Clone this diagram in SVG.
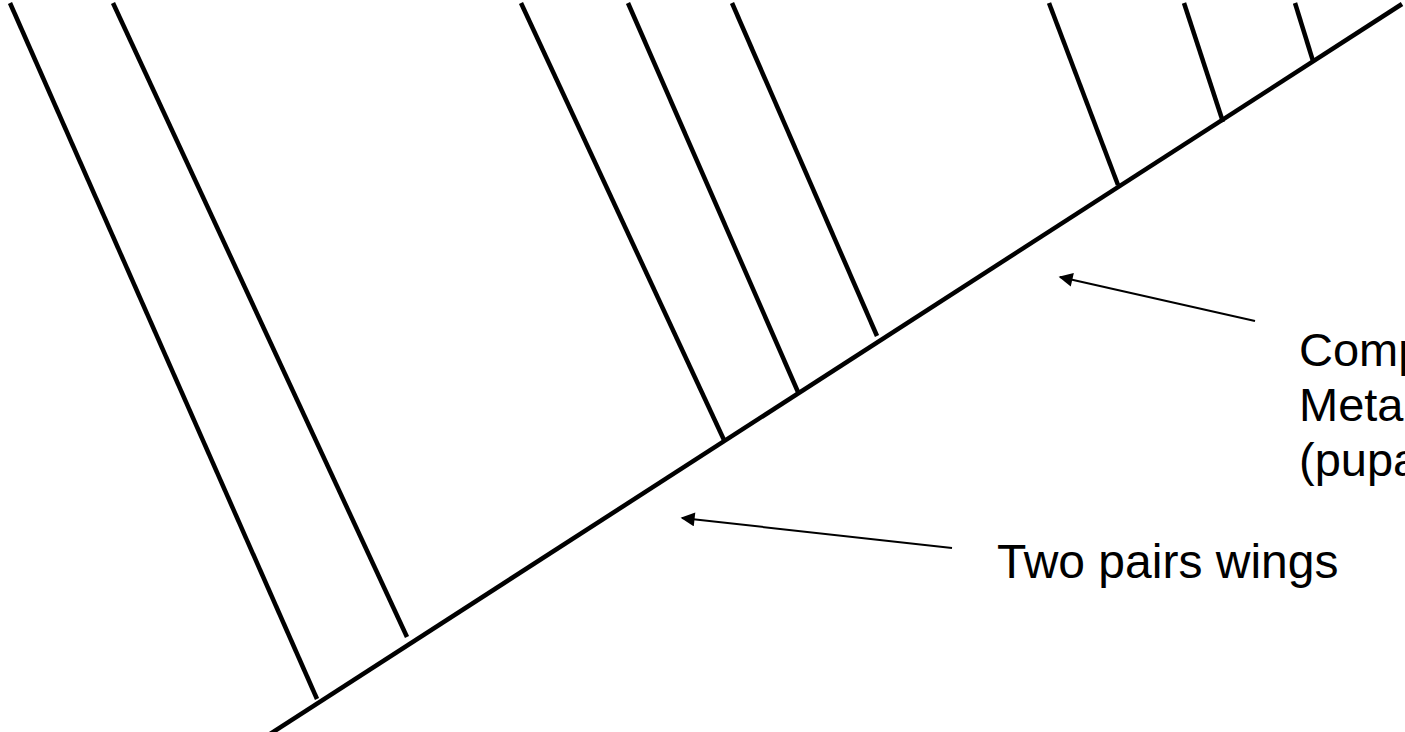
<svg xmlns="http://www.w3.org/2000/svg" width="1405" height="732" viewBox="0 0 1405 732">
  <style>
    .stem { stroke: #000; stroke-width: 4.5; stroke-linecap: butt; fill: none; }
    .pointer { stroke: #000; stroke-width: 2; fill: none; marker-end: url(#head); }
    .label { font-family: "Liberation Sans", Arial, sans-serif; font-size: 48px; fill: #000; }
    .side { font-size: 47px; }
  </style>
  <defs>
    <marker id="head" viewBox="0 0 10 10" refX="9" refY="5" markerWidth="8" markerHeight="7" markerUnits="strokeWidth" orient="auto">
      <path d="M0,0 L10,5 L0,10 Z" fill="#000"/>
    </marker>
  </defs>
  <rect width="1405" height="732" fill="#fff"/>

  <!-- trunk and side branches of the tree -->
  <g id="connectors">
    <line class="stem" x1="270" y1="734" x2="1402" y2="4"/>
    <line class="stem" x1="10" y1="3" x2="317" y2="699"/>
    <line class="stem" x1="113" y1="3" x2="407" y2="637"/>
    <line class="stem" x1="521" y1="3" x2="724" y2="440"/>
    <line class="stem" x1="628" y1="3" x2="798" y2="392"/>
    <line class="stem" x1="732" y1="3" x2="877" y2="336"/>
    <line class="stem" x1="1049" y1="3" x2="1118" y2="185"/>
    <line class="stem" x1="1184" y1="3" x2="1223" y2="122"/>
    <line class="stem" x1="1295" y1="3" x2="1313" y2="61"/>
    <line class="pointer" x1="1255" y1="321" x2="1060" y2="277"/>
    <line class="pointer" x1="952" y1="548" x2="682" y2="518"/>
  </g>

  <g id="label-metamorphosis">
    <text class="label side" x="1299" y="366">Complete</text>
    <text class="label side" x="1299" y="421">Metamorphosis</text>
    <text class="label side" x="1299" y="476">(pupa)</text>
  </g>
  <g id="label-wings">
    <text class="label" x="997" y="578">Two pairs wings</text>
  </g>
</svg>
